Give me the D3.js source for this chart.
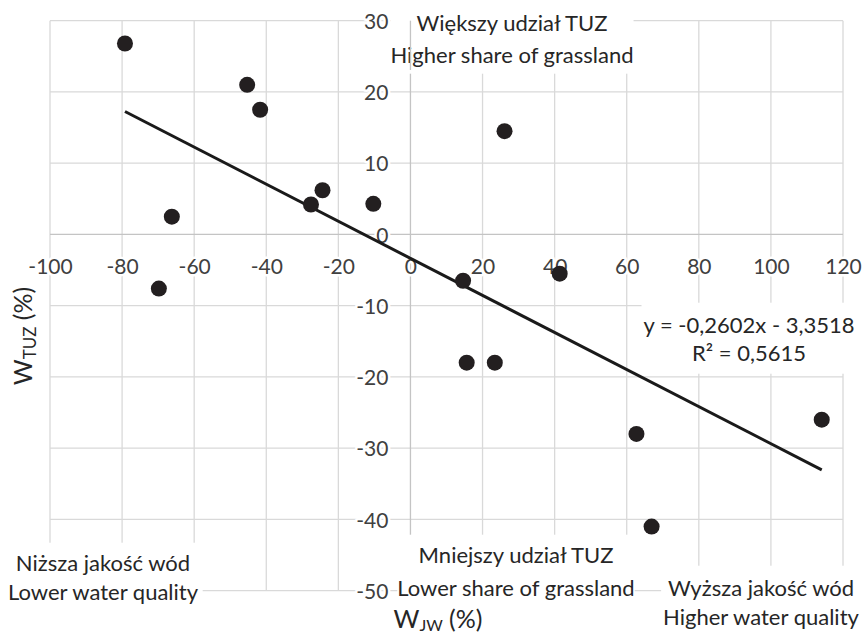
<!DOCTYPE html>
<html>
<head>
<meta charset="utf-8">
<script src="https://cdn.jsdelivr.net/npm/d3@7"></script>
<style>
  body { margin: 0; background: #fff; }
  svg { display: block; font-family: Lato, "Open Sans", sans-serif; }
</style>
</head>
<body>
<div id="chart"></div>
<script>
// values
var wJW  = [-79.2, -45.3, -41.7, -66.2, -69.8, -27.6, -24.4, -10.3, 26.1, 14.6, 41.4, 15.6, 23.4, 62.7, 66.9, 114.1];
var wTUZ = [ 26.8,  21.0,  17.5,   2.5,  -7.6,   4.2,   6.2,   4.3, 14.5, -6.5, -5.5, -18.0, -18.0, -28.0, -41.0, -26.0];
var xTicks = [-100, -80, -60, -40, -20, 0, 20, 40, 60, 80, 100, 120];
var yTicks = [-50, -40, -30, -20, -10, 0, 10, 20, 30];
var trendSlope = -0.2602,
    trendIntercept = -3.3518;
var equationLines = ['y = -0,2602x - 3,3518', 'R² = 0,5615'];
var topNote    = ['Większy udział TUZ', 'Higher share of grassland'];
var bottomNote = ['Mniejszy udział TUZ', 'Lower share of grassland'];
var leftNote   = ['Niższa jakość wód', 'Lower water quality'];
var rightNote  = ['Wyższa jakość wód', 'Higher water quality'];

var width = 862,
    height = 636;
var margin = {top: 20.7, right: 19, bottom: 45.3, left: 50};

var svg = d3.select('#chart')
    .append('svg')
        .attr('width', width)
        .attr('height', height);

var x = d3.scaleLinear()
    .domain([-100, 120])
    .range([margin.left, width - margin.right]);
var y = d3.scaleLinear()
    .domain([-50, 30])
    .range([height - margin.bottom, margin.top]);

// plain hyphen, as in the original (d3 uses the unicode minus)
var fmt = function (d) { return String(d); };

// gridlines
var grid = svg.append('g').attr('stroke', '#d9d9d9').attr('stroke-width', 1.3);
grid.selectAll('line.v')
    .data(xTicks.filter(function (d) { return d !== 0; }))
    .enter().append('line')
        .attr('x1', function (d) { return x(d); })
        .attr('x2', function (d) { return x(d); })
        .attr('y1', y(30))
        .attr('y2', y(-50));
grid.selectAll('line.h')
    .data(yTicks.filter(function (d) { return d !== 0; }))
    .enter().append('line')
        .attr('x1', x(-100))
        .attr('x2', x(120))
        .attr('y1', function (d) { return y(d); })
        .attr('y2', function (d) { return y(d); });

// axes through the origin
svg.append('line')
    .attr('x1', x(-100)).attr('x2', x(120))
    .attr('y1', y(0)).attr('y2', y(0))
    .attr('stroke', '#c4c4c4').attr('stroke-width', 1.3);
svg.append('line')
    .attr('x1', x(0)).attr('x2', x(0))
    .attr('y1', y(30)).attr('y2', y(-50))
    .attr('stroke', '#c4c4c4').attr('stroke-width', 1.3);

// tick labels (white halo hides the gridlines behind them)
var xAxis = svg.append('g')
    .attr('transform', 'translate(0,' + (y(0) + 32) + ')')
    .call(d3.axisBottom(x).tickValues(xTicks).tickSize(0).tickPadding(0).tickFormat(fmt));
var yAxis = svg.append('g')
    .attr('transform', 'translate(' + (x(0) - 22) + ',0)')
    .call(d3.axisLeft(y).tickValues(yTicks).tickSize(0).tickPadding(0).tickFormat(fmt));
[xAxis, yAxis].forEach(function (ax) {
    ax.select('.domain').remove();
    ax.selectAll('text')
        .attr('font-family', 'Lato, sans-serif')
        .attr('font-size', 21)
        .attr('fill', '#404040')
        .attr('stroke', '#fff')
        .attr('stroke-width', 5)
        .attr('paint-order', 'stroke')
        .attr('stroke-linejoin', 'round');
});
xAxis.selectAll('text').attr('dy', '0.36em');
yAxis.selectAll('text').attr('dy', '0.36em');

// text boxes with white background
function note(lines, cx, cy, lineH, pad) {
    var g = svg.append('g');
    var bg = g.append('rect').attr('fill', '#fff');
    var t = g.append('text')
        .attr('text-anchor', 'middle')
        .attr('font-size', 22)
        .attr('fill', '#262626');
    lines.forEach(function (s, i) {
        t.append('tspan')
            .attr('x', cx)
            .attr('y', cy + i * lineH)
            .attr('dy', '0.35em')
            .text(s);
    });
    var bb = t.node().getBBox();
    bg.attr('x', bb.x - pad[0]).attr('y', bb.y - pad[1])
      .attr('width', bb.width + 2 * pad[0]).attr('height', bb.height + 2 * pad[1]);
    return g;
}

note(topNote, 512, 23, 32, [0, 6]);
note(equationLines, 749, 325, 28, [2, 8]);
note(leftNote, 103, 563, 29, [4, 6]);
note(bottomNote, 516, 555, 33, [0, 6]);
note(rightNote, 761, 588, 29, [2, 8]);

// zero axis line stays visible above the top box
svg.append('line')
    .attr('x1', x(0)).attr('x2', x(0))
    .attr('y1', y(30)).attr('y2', 70)
    .attr('stroke', '#c4c4c4').attr('stroke-width', 1.3);

// trend line over the data range
var xExt = d3.extent(wJW);
svg.append('line')
    .attr('x1', x(xExt[0])).attr('y1', y(trendSlope * xExt[0] + trendIntercept))
    .attr('x2', x(xExt[1])).attr('y2', y(trendSlope * xExt[1] + trendIntercept))
    .attr('stroke', '#1a1a1a')
    .attr('stroke-width', 3);

// points
svg.append('g')
    .selectAll('circle')
    .data(d3.zip(wJW, wTUZ))
    .enter().append('circle')
        .attr('cx', function (d) { return x(d[0]); })
        .attr('cy', function (d) { return y(d[1]); })
        .attr('r', 8)
        .attr('fill', '#231f20');

// axis titles
var yTitle = svg.append('text')
    .attr('transform', 'translate(32,336) rotate(-90)')
    .attr('text-anchor', 'middle')
    .attr('font-size', 25)
    .attr('fill', '#262626');
yTitle.append('tspan').text('W');
yTitle.append('tspan').attr('font-size', 17).attr('dy', 4).text('TUZ');
yTitle.append('tspan').attr('dy', -4).text(' (%)');

var xTitle = svg.append('text')
    .attr('x', 438)
    .attr('y', 628)
    .attr('text-anchor', 'middle')
    .attr('font-size', 25)
    .attr('fill', '#262626');
xTitle.append('tspan').text('W');
xTitle.append('tspan').attr('font-size', 16).attr('dy', 3).text('JW');
xTitle.append('tspan').attr('dy', -3).text(' (%)');
</script>
</body>
</html>
